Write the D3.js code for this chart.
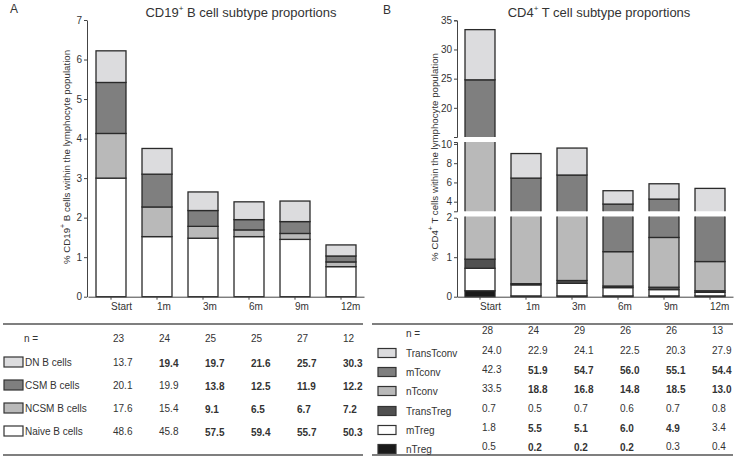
<!DOCTYPE html>
<html>
<head>
<meta charset="utf-8">
<script src="https://cdn.jsdelivr.net/npm/d3@7"></script>
<style>
  body { margin: 0; background: #fff; }
  svg text { font-family: "Liberation Sans", Arial, sans-serif; fill: #333; }
</style>
</head>
<body>
<div id="chart"></div>
<script>
// time points (shared by both panels)
var timepoints = ["Start", "1m", "3m", "6m", "9m", "12m"];

// panel A - B cell subsets, segment heights (% of lymphocytes), bottom to top
var bSubsets = ["Naive B cells", "NCSM B cells", "CSM B cells", "DN B cells"];
var bNaive = [3.00, 1.52, 1.48, 1.52, 1.45, 0.76];
var bNCSM  = [1.13, 0.75, 0.30, 0.17, 0.15, 0.12];
var bCSM   = [1.29, 0.83, 0.40, 0.26, 0.30, 0.15];
var bDN    = [0.80, 0.65, 0.47, 0.45, 0.52, 0.28];

// panel A table
var bN = ["23", "24", "25", "25", "27", "12"];
var bRows = ["DN B cells", "CSM B cells", "NCSM B cells", "Naive B cells"];
var bPctDN    = ["13.7", "19.4", "19.7", "21.6", "25.7", "30.3"];
var bPctCSM   = ["20.1", "19.9", "13.8", "12.5", "11.9", "12.2"];
var bPctNCSM  = ["17.6", "15.4", "9.1", "6.5", "6.7", "7.2"];
var bPctNaive = ["48.6", "45.8", "57.5", "59.4", "55.7", "50.3"];
var bBoldDN    = [0, 1, 1, 1, 1, 1];
var bBoldCSM   = [0, 0, 1, 1, 1, 1];
var bBoldNCSM  = [0, 0, 1, 1, 1, 1];
var bBoldNaive = [0, 0, 1, 1, 1, 1];

// panel B - CD4 T cell subsets, segment heights, bottom to top
var tSubsets = ["nTreg", "mTreg", "TransTreg", "nTconv", "mTconv", "TransTconv"];
var tNTreg      = [0.15, 0.02, 0.02, 0.02, 0.02, 0.02];
var tMTreg      = [0.57, 0.28, 0.32, 0.21, 0.16, 0.09];
var tTransTreg  = [0.23, 0.03, 0.07, 0.04, 0.06, 0.04];
var tNTconv     = [11.15, 2.20, 2.10, 0.87, 1.26, 0.74];
var tMTconv     = [12.70, 3.92, 4.26, 2.61, 2.77, 1.71];
var tTransTconv = [8.60, 2.55, 2.80, 1.39, 1.59, 2.78];

// panel B table
var tN = ["28", "24", "29", "26", "26", "13"];
var tRows = ["TransTconv", "mTconv", "nTconv", "TransTreg", "mTreg", "nTreg"];
var tPctTransTconv = ["24.0", "22.9", "24.1", "22.5", "20.3", "27.9"];
var tPctMTconv     = ["42.3", "51.9", "54.7", "56.0", "55.1", "54.4"];
var tPctNTconv     = ["33.5", "18.8", "16.8", "14.8", "18.5", "13.0"];
var tPctTransTreg  = ["0.7", "0.5", "0.7", "0.6", "0.7", "0.8"];
var tPctMTreg      = ["1.8", "5.5", "5.1", "6.0", "4.9", "3.4"];
var tPctNTreg      = ["0.5", "0.2", "0.2", "0.2", "0.3", "0.4"];
var tBoldTransTconv = [0, 0, 0, 0, 0, 0];
var tBoldMTconv     = [0, 1, 1, 1, 1, 1];
var tBoldNTconv     = [0, 1, 1, 1, 1, 1];
var tBoldTransTreg  = [0, 0, 0, 0, 0, 0];
var tBoldMTreg      = [0, 1, 1, 1, 1, 0];
var tBoldNTreg      = [0, 1, 1, 1, 0, 0];

var colors = {
  "DN B cells": "#dcdcde", "CSM B cells": "#7f7f7f", "NCSM B cells": "#b9b9b9", "Naive B cells": "#ffffff",
  "TransTconv": "#dcdcde", "mTconv": "#7f7f7f", "nTconv": "#b9b9b9",
  "TransTreg": "#505050", "mTreg": "#ffffff", "nTreg": "#1a1a1a"
};

var W = 738, H = 460;
var FS = "10px"; // small text size
var svg = d3.select("#chart").append("svg").attr("width", W).attr("height", H);

function stackData(names, series) {
  // returns for each timepoint list of {name, y0, y1}
  return timepoints.map(function (t, i) {
    var acc = 0, out = [];
    names.forEach(function (n, k) {
      var v = series[k][i];
      out.push({ name: n, y0: acc, y1: acc + v, tp: t });
      acc += v;
    });
    return out;
  });
}

function bandScale(x0) {
  return d3.scaleBand().domain(timepoints).range([x0, x0 + 276])
    .paddingInner(0.348).paddingOuter(0.174);
}

function drawXAxis(x, y0) {
  var g = svg.append("g").attr("transform", "translate(0," + y0 + ")")
    .call(d3.axisBottom(x).tickSize(3).tickSizeOuter(0));
  g.select(".domain").attr("stroke", "#444");
  g.selectAll(".tick line").attr("stroke", "#444");
  g.selectAll(".tick text").attr("text-anchor", "start").attr("dx", 0)
    .style("font-size", FS).attr("fill", "#333");
}

function styleY(g) {
  g.select(".domain").attr("stroke", "#444");
  g.selectAll(".tick line").attr("stroke", "#444");
  g.selectAll(".tick text").style("font-size", FS).attr("fill", "#333").attr("dx", 1);
}

function drawBars(stacks, x, y, clipId) {
  var g = svg.append("g");
  if (clipId) g.attr("clip-path", "url(#" + clipId + ")");
  stacks.forEach(function (col) {
    g.selectAll(null).data(col).enter().append("rect")
      .attr("x", function (d) { return x(d.tp); })
      .attr("width", x.bandwidth())
      .attr("y", function (d) { return y(d.y1); })
      .attr("height", function (d) { return Math.max(0, y(d.y0) - y(d.y1)); })
      .attr("fill", function (d) { return colors[d.name]; })
      .attr("stroke", "#2a2a2a").attr("stroke-width", 1.3);
  });
}

function title(x, y, pre, post) {
  var t = svg.append("text").attr("x", x).attr("y", y).attr("text-anchor", "middle")
    .style("font-size", "13px");
  t.append("tspan").text(pre);
  t.append("tspan").text("+").attr("dy", -6).style("font-size", "8px");
  t.append("tspan").text(post).attr("dy", 6);
}

function yLabel(x, y, pre, post) {
  var t = svg.append("text").attr("transform", "translate(" + x + "," + y + ") rotate(-90)")
    .attr("text-anchor", "middle").style("font-size", "9.7px");
  t.append("tspan").text(pre);
  t.append("tspan").text("+").attr("dy", -5).style("font-size", "7px");
  t.append("tspan").text(post).attr("dy", 5);
}

function table(x, labels, rowY, labelDy, values, bolds, nVals, nY, lines, swatch) {
  svg.selectAll(null).data(lines.ys).enter().append("line")
    .attr("x1", lines.x0).attr("x2", lines.x1)
    .attr("y1", function (d) { return d; }).attr("y2", function (d) { return d; })
    .attr("stroke", "#555").attr("stroke-width", 1.6);
  svg.append("text").attr("x", lines.nX).attr("y", nY + labelDy + 4).text("n =").style("font-size", FS);
  svg.selectAll(null).data(nVals).enter().append("text")
    .attr("x", function (d, i) { return x(timepoints[i]) + x.bandwidth() / 2 + 2; })
    .attr("y", nY + 4).text(function (d) { return d; }).style("font-size", FS);
  labels.forEach(function (lab, r) {
    var yy = rowY[r];
    svg.append("rect").attr("x", swatch.x).attr("y", yy + labelDy - swatch.h / 2)
      .attr("width", swatch.w).attr("height", swatch.h)
      .attr("fill", colors[lab]).attr("stroke", "#333").attr("stroke-width", 1.2);
    svg.append("text").attr("x", swatch.tx).attr("y", yy + labelDy + 4).text(lab).style("font-size", FS);
    svg.selectAll(null).data(values[r]).enter().append("text")
      .attr("x", function (d, i) { return x(timepoints[i]) + x.bandwidth() / 2 + 2; })
      .attr("y", function (d, i) { return yy + 4 + (bolds[r][i] ? 1 : 0); })
      .text(function (d) { return d; })
      .style("font-size", FS)
      .style("font-weight", function (d, i) { return bolds[r][i] ? "bold" : "normal"; });
  });
}

// ---------------- Panel A ----------------
var xA = bandScale(88);
var yA = d3.scaleLinear().domain([0, 7]).range([296.7, 20]);
var stA = stackData(bSubsets, [bNaive, bNCSM, bCSM, bDN]);
drawBars(stA, xA, yA, null);
var gyA = svg.append("g").attr("transform", "translate(87,0)")
  .call(d3.axisLeft(yA).ticks(7).tickSize(3).tickSizeOuter(0));
styleY(gyA);
drawXAxis(xA, 296.7);
svg.append("text").attr("x", 10).attr("y", 13).text("A").style("font-size", "12px");
title(241, 17, "CD19", " B cell subtype proportions");
yLabel(70, 157, "% CD19", " B cells within the lymphocyte population");

table(xA, bRows, [362, 385, 408, 431], 0,
  [bPctDN, bPctCSM, bPctNCSM, bPctNaive],
  [bBoldDN, bBoldCSM, bBoldNCSM, bBoldNaive],
  bN, 338, { ys: [324, 455], x0: 3, x1: 363, nX: 24 },
  { x: 4, w: 19, h: 10, tx: 25 });

// ---------------- Panel B ----------------
var xB = bandScale(457);
var yLow = d3.scaleLinear().domain([0, 2]).range([296.7, 217.7]);
var yMid = d3.scaleLinear().domain([3, 10.2]).range([211.3, 142]);
var yHigh = d3.scaleLinear().domain([15, 35]).range([137, 20.3]);
var defs = svg.append("defs");
[["clipLow", 216.5, 300], ["clipMid", 142, 211.3], ["clipHigh", 15, 137]].forEach(function (c) {
  defs.append("clipPath").attr("id", c[0]).append("rect")
    .attr("x", 440).attr("y", c[1]).attr("width", 300).attr("height", c[2] - c[1]);
});
var stB = stackData(tSubsets, [tNTreg, tMTreg, tTransTreg, tNTconv, tMTconv, tTransTconv]);
drawBars(stB, xB, yLow, "clipLow");
drawBars(stB, xB, yMid, "clipMid");
drawBars(stB, xB, yHigh, "clipHigh");

styleY(svg.append("g").attr("transform", "translate(457,0)")
  .call(d3.axisLeft(yLow).tickValues([0, 1, 2]).tickFormat(d3.format("d")).tickSize(3).tickSizeOuter(0)));
styleY(svg.append("g").attr("transform", "translate(457,0)")
  .call(d3.axisLeft(yMid).tickValues([4, 6, 8, 10]).tickSize(3).tickSizeOuter(3)));
styleY(svg.append("g").attr("transform", "translate(457,0)")
  .call(d3.axisLeft(yHigh).tickValues([20, 25, 30, 35]).tickSize(3).tickSizeOuter(3)));
drawXAxis(xB, 296.7);
svg.append("text").attr("x", 383).attr("y", 14).text("B").style("font-size", "12px");
title(599, 17, "CD4", " T cell subtype proportions");
yLabel(438, 157, "% CD4", " T cells within the lymphocyte population");

table(xB, tRows, [350, 369, 388, 408, 427, 446], 3,
  [tPctTransTconv, tPctMTconv, tPctNTconv, tPctTransTreg, tPctMTreg, tPctNTreg],
  [tBoldTransTconv, tBoldMTconv, tBoldNTconv, tBoldTransTreg, tBoldMTreg, tBoldNTreg],
  tN, 330, { ys: [324, 455], x0: 372, x1: 733, nX: 406 },
  { x: 378, w: 18, h: 9, tx: 406 });
</script>
</body>
</html>
